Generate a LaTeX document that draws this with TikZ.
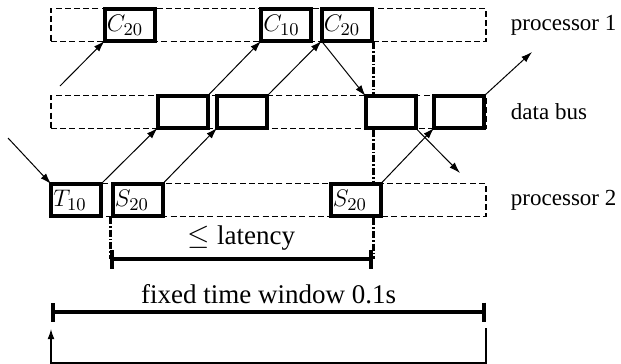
\documentclass[tikz,border=0pt]{standalone}
\usepackage{fontspec}
\setmainfont{Liberation Serif}
\usetikzlibrary{arrows.meta,positioning}

\begin{document}
\begin{tikzpicture}[
  x=0.5pt, y=-0.5pt,
  font=\fontsize{11.5}{14}\selectfont,
  lane/.style={
    draw,
    dash pattern=on 3pt off 1.6pt,
    line width=.9pt,
    minimum width=217.5pt,
    minimum height=16.5pt
  },
  slot/.style={
    draw,
    fill=white,
    line width=2pt,
    outer sep=0pt,
    inner sep=1.2pt,
    text width=22.6pt,
    align=left,
    minimum width=25pt,
    minimum height=16pt,
    font=\fontsize{13}{15}\selectfont
  },
  msg/.style={line width=.5pt,-{Latex[length=5.5pt,width=3.6pt]}},
  deadline/.style={line width=1.5pt,dash pattern=on 3.5pt off 1pt on .8pt off 1pt},
  span/.style={line width=1.8pt,{Bar[width=9.5pt]}-{Bar[width=9.5pt]}},
  spantext/.style={above,font=\fontsize{13.5}{16}\selectfont}
]
  \useasboundingbox (0,0) rectangle (621,364);

  % The three time lanes and their names.
  \node[lane] (proc1) at (268.5,25) {};
  \node[lane] (bus) at (268.5,112) {};
  \node[lane] (proc2) at (268.5,200) {};
  \node[right=8.5pt of proc1] {processor 1};
  \node[right=8.5pt of bus] {data bus};
  \node[right=8.5pt of proc2] {processor 2};

  % Deadline markers run behind the slots.
  \coordinate (latL) at (110,259);
  \coordinate (latR) at (373,259);
  \draw[deadline] (110,217) -- (latL);
  \draw[deadline] (373,42) -- (latR);

  % Slots on each lane.
  \node[slot] (c20a) at (129.5,25) {$C_{20}$};
  \node[slot] (c10) at (286,25) {$C_{10}$};
  \node[slot] (c20b) at (346.5,25) {$C_{20}$};
  \node[slot] (bus1) at (182.5,112) {};
  \node[slot] (bus2) at (242,112) {};
  \node[slot] (bus3) at (390.5,112) {};
  \node[slot] (bus4) at (459,112) {};
  \node[slot] (t10) at (76,200) {$T_{10}$};
  \node[slot] (s20a) at (137.5,200) {$S_{20}$};
  \node[slot] (s20b) at (355.5,200) {$S_{20}$};

  % Messages between the lanes.
  \coordinate (inT) at (8,138);
  \coordinate (inC) at (60,86);
  \coordinate (out1) at (532,52);
  \coordinate (out2) at (460,173);
  \draw[msg] (inT) -- (t10.north west);
  \draw[msg] (t10.north east) -- (bus1.south west);
  \draw[msg] (inC) -- (c20a.south west);
  \draw[msg] (bus1.north east) -- (c10.south west);
  \draw[msg] (s20a.north east) -- (bus2.south west);
  \draw[msg] (bus2.north east) -- (c20b.south west);
  \draw[msg] (c20b.south west) -- (bus3.north west);
  \draw[msg] (s20b.north east) -- (bus4.south west);
  \draw[msg] (bus4.north east) -- (out1);
  \draw[msg] (bus3.south east) -- (out2);

  % Latency and window bars.
  \draw[span] (latL) -- node[spantext] {$\le$ latency} (latR);
  \coordinate (winL) at (51,312);
  \coordinate (winR) at (486,312);
  \draw[span] (winL) -- node[spantext] {fixed time window 0.1s} (winR);

  % Feedback to the next window.
  \coordinate (fbR) at (486,328);
  \coordinate (fbB) at (486,363);
  \coordinate (fbL) at (51,329);
  \draw[line width=.6pt,-{Latex[length=5pt,width=3.4pt]}] (fbR) -- (fbB) -| (fbL);
\end{tikzpicture}
\end{document}
